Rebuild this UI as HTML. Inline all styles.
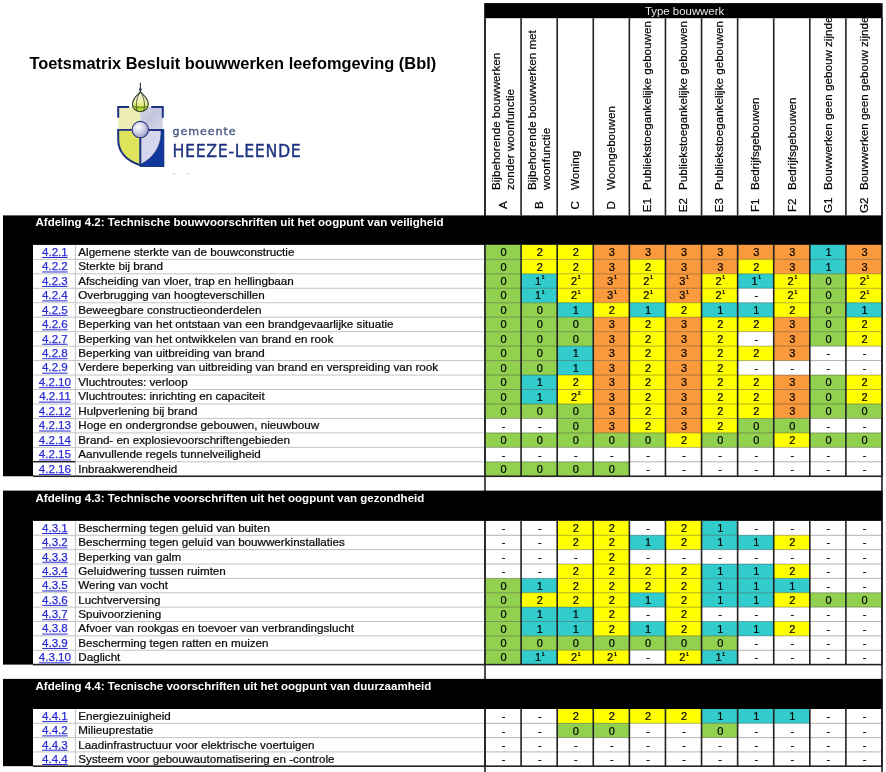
<!DOCTYPE html>
<html lang="nl"><head><meta charset="utf-8"><title>Toetsmatrix Besluit bouwwerken leefomgeving (Bbl)</title>
<style>
html,body{margin:0;padding:0;background:#fff;}
body{width:886px;height:772px;overflow:hidden;}
svg{display:block;font-family:"Liberation Sans", Arial, sans-serif;will-change:transform;}
.d{font-size:11px;fill:#000;stroke:#000;stroke-width:.22px;}
.t{font-size:11.65px;fill:#0a0a0a;stroke:#0a0a0a;stroke-width:.24px;}
.l{font-size:11.6px;fill:#2a2ad6;stroke:#2a2ad6;stroke-width:.25px;}
.h{font-size:11.65px;fill:#000;stroke:#000;stroke-width:.2px;}
</style></head><body>
<svg width="886" height="772" viewBox="0 0 886 772">
<defs><clipPath id="hclip"><rect x="484" y="18.2" width="400" height="197.2"/></clipPath></defs>
<rect x="484.2" y="3.1" width="398.4" height="15.1" fill="#000"/>
<text x="684.6" y="14.5" text-anchor="middle" fill="#e6e6e6" font-size="11.4">Type bouwwerk</text>
<g clip-path="url(#hclip)" class="h">
<text transform="translate(506.85,205.2) rotate(-90)" text-anchor="middle">A</text>
<text transform="translate(499.85,190.0) rotate(-90)">Bijbehorende bouwwerken</text>
<text transform="translate(513.85,190.0) rotate(-90)">zonder woonfunctie</text>
<text transform="translate(542.93,205.2) rotate(-90)" text-anchor="middle">B</text>
<text transform="translate(535.93,190.0) rotate(-90)">Bijbehorende bouwwerken met</text>
<text transform="translate(549.93,190.0) rotate(-90)">woonfunctie</text>
<text transform="translate(579.02,205.2) rotate(-90)" text-anchor="middle">C</text>
<text transform="translate(579.02,190.0) rotate(-90)">Woning</text>
<text transform="translate(615.12,205.2) rotate(-90)" text-anchor="middle">D</text>
<text transform="translate(615.12,190.0) rotate(-90)">Woongebouwen</text>
<text transform="translate(651.2,205.2) rotate(-90)" text-anchor="middle">E1</text>
<text transform="translate(651.2,190.0) rotate(-90)">Publiekstoegankelijke gebouwen</text>
<text transform="translate(687.29,205.2) rotate(-90)" text-anchor="middle">E2</text>
<text transform="translate(687.29,190.0) rotate(-90)">Publiekstoegankelijke gebouwen</text>
<text transform="translate(723.38,205.2) rotate(-90)" text-anchor="middle">E3</text>
<text transform="translate(723.38,190.0) rotate(-90)">Publiekstoegankelijke gebouwen</text>
<text transform="translate(759.47,205.2) rotate(-90)" text-anchor="middle">F1</text>
<text transform="translate(759.47,190.0) rotate(-90)">Bedrijfsgebouwen</text>
<text transform="translate(795.57,205.2) rotate(-90)" text-anchor="middle">F2</text>
<text transform="translate(795.57,190.0) rotate(-90)">Bedrijfsgebouwen</text>
<text transform="translate(831.65,205.2) rotate(-90)" text-anchor="middle">G1</text>
<text transform="translate(831.65,190.0) rotate(-90)">Bouwwerken geen gebouw zijnde</text>
<text transform="translate(867.75,205.2) rotate(-90)" text-anchor="middle">G2</text>
<text transform="translate(867.75,190.0) rotate(-90)">Bouwwerken geen gebouw zijnde</text>
</g>
<rect x="484.2" y="18.2" width="1.6" height="197.2" fill="#222"/>
<rect x="520.29" y="18.2" width="1.6" height="197.2" fill="#222"/>
<rect x="556.38" y="18.2" width="1.6" height="197.2" fill="#222"/>
<rect x="592.47" y="18.2" width="1.6" height="197.2" fill="#222"/>
<rect x="628.56" y="18.2" width="1.6" height="197.2" fill="#222"/>
<rect x="664.65" y="18.2" width="1.6" height="197.2" fill="#222"/>
<rect x="700.74" y="18.2" width="1.6" height="197.2" fill="#222"/>
<rect x="736.83" y="18.2" width="1.6" height="197.2" fill="#222"/>
<rect x="772.92" y="18.2" width="1.6" height="197.2" fill="#222"/>
<rect x="809.01" y="18.2" width="1.6" height="197.2" fill="#222"/>
<rect x="845.1" y="18.2" width="1.6" height="197.2" fill="#222"/>
<rect x="881.19" y="18.2" width="1.6" height="197.2" fill="#222"/>
<rect x="484.2" y="18.2" width="1.6" height="753.8" fill="#222"/>
<rect x="881.19" y="18.2" width="1.6" height="753.8" fill="#222"/>
<rect x="3.0" y="215.4" width="879.6" height="29.5" fill="#000"/>
<text x="35.5" y="226.4" fill="#fff" font-weight="bold" font-size="11.53">Afdeling 4.2: Technische bouwvoorschriften uit het oogpunt van veiligheid</text>
<rect x="3.0" y="217.4" width="30" height="258.86" fill="#000"/>
<rect x="485" y="244.9" width="36.09" height="14.46" fill="#92d050"/>
<rect x="521.09" y="244.9" width="36.09" height="14.46" fill="#ffff00"/>
<rect x="557.18" y="244.9" width="36.09" height="14.46" fill="#ffff00"/>
<rect x="593.27" y="244.9" width="36.09" height="14.46" fill="#fa9a3c"/>
<rect x="629.36" y="244.9" width="36.09" height="14.46" fill="#fa9a3c"/>
<rect x="665.45" y="244.9" width="36.09" height="14.46" fill="#fa9a3c"/>
<rect x="701.54" y="244.9" width="36.09" height="14.46" fill="#fa9a3c"/>
<rect x="737.63" y="244.9" width="36.09" height="14.46" fill="#fa9a3c"/>
<rect x="773.72" y="244.9" width="36.09" height="14.46" fill="#fa9a3c"/>
<rect x="809.81" y="244.9" width="36.09" height="14.46" fill="#33cccc"/>
<rect x="845.9" y="244.9" width="36.09" height="14.46" fill="#fa9a3c"/>
<rect x="485" y="259.36" width="36.09" height="14.46" fill="#92d050"/>
<rect x="521.09" y="259.36" width="36.09" height="14.46" fill="#ffff00"/>
<rect x="557.18" y="259.36" width="36.09" height="14.46" fill="#ffff00"/>
<rect x="593.27" y="259.36" width="36.09" height="14.46" fill="#fa9a3c"/>
<rect x="629.36" y="259.36" width="36.09" height="14.46" fill="#ffff00"/>
<rect x="665.45" y="259.36" width="36.09" height="14.46" fill="#fa9a3c"/>
<rect x="701.54" y="259.36" width="36.09" height="14.46" fill="#fa9a3c"/>
<rect x="737.63" y="259.36" width="36.09" height="14.46" fill="#ffff00"/>
<rect x="773.72" y="259.36" width="36.09" height="14.46" fill="#fa9a3c"/>
<rect x="809.81" y="259.36" width="36.09" height="14.46" fill="#33cccc"/>
<rect x="845.9" y="259.36" width="36.09" height="14.46" fill="#fa9a3c"/>
<rect x="485" y="273.82" width="36.09" height="14.46" fill="#92d050"/>
<rect x="521.09" y="273.82" width="36.09" height="14.46" fill="#33cccc"/>
<rect x="557.18" y="273.82" width="36.09" height="14.46" fill="#ffff00"/>
<rect x="593.27" y="273.82" width="36.09" height="14.46" fill="#fa9a3c"/>
<rect x="629.36" y="273.82" width="36.09" height="14.46" fill="#ffff00"/>
<rect x="665.45" y="273.82" width="36.09" height="14.46" fill="#fa9a3c"/>
<rect x="701.54" y="273.82" width="36.09" height="14.46" fill="#ffff00"/>
<rect x="737.63" y="273.82" width="36.09" height="14.46" fill="#33cccc"/>
<rect x="773.72" y="273.82" width="36.09" height="14.46" fill="#ffff00"/>
<rect x="809.81" y="273.82" width="36.09" height="14.46" fill="#92d050"/>
<rect x="845.9" y="273.82" width="36.09" height="14.46" fill="#ffff00"/>
<rect x="485" y="288.28" width="36.09" height="14.46" fill="#92d050"/>
<rect x="521.09" y="288.28" width="36.09" height="14.46" fill="#33cccc"/>
<rect x="557.18" y="288.28" width="36.09" height="14.46" fill="#ffff00"/>
<rect x="593.27" y="288.28" width="36.09" height="14.46" fill="#fa9a3c"/>
<rect x="629.36" y="288.28" width="36.09" height="14.46" fill="#ffff00"/>
<rect x="665.45" y="288.28" width="36.09" height="14.46" fill="#fa9a3c"/>
<rect x="701.54" y="288.28" width="36.09" height="14.46" fill="#ffff00"/>
<rect x="773.72" y="288.28" width="36.09" height="14.46" fill="#ffff00"/>
<rect x="809.81" y="288.28" width="36.09" height="14.46" fill="#92d050"/>
<rect x="845.9" y="288.28" width="36.09" height="14.46" fill="#ffff00"/>
<rect x="485" y="302.74" width="36.09" height="14.46" fill="#92d050"/>
<rect x="521.09" y="302.74" width="36.09" height="14.46" fill="#92d050"/>
<rect x="557.18" y="302.74" width="36.09" height="14.46" fill="#33cccc"/>
<rect x="593.27" y="302.74" width="36.09" height="14.46" fill="#ffff00"/>
<rect x="629.36" y="302.74" width="36.09" height="14.46" fill="#33cccc"/>
<rect x="665.45" y="302.74" width="36.09" height="14.46" fill="#ffff00"/>
<rect x="701.54" y="302.74" width="36.09" height="14.46" fill="#33cccc"/>
<rect x="737.63" y="302.74" width="36.09" height="14.46" fill="#33cccc"/>
<rect x="773.72" y="302.74" width="36.09" height="14.46" fill="#ffff00"/>
<rect x="809.81" y="302.74" width="36.09" height="14.46" fill="#92d050"/>
<rect x="845.9" y="302.74" width="36.09" height="14.46" fill="#33cccc"/>
<rect x="485" y="317.2" width="36.09" height="14.46" fill="#92d050"/>
<rect x="521.09" y="317.2" width="36.09" height="14.46" fill="#92d050"/>
<rect x="557.18" y="317.2" width="36.09" height="14.46" fill="#92d050"/>
<rect x="593.27" y="317.2" width="36.09" height="14.46" fill="#fa9a3c"/>
<rect x="629.36" y="317.2" width="36.09" height="14.46" fill="#ffff00"/>
<rect x="665.45" y="317.2" width="36.09" height="14.46" fill="#fa9a3c"/>
<rect x="701.54" y="317.2" width="36.09" height="14.46" fill="#ffff00"/>
<rect x="737.63" y="317.2" width="36.09" height="14.46" fill="#ffff00"/>
<rect x="773.72" y="317.2" width="36.09" height="14.46" fill="#fa9a3c"/>
<rect x="809.81" y="317.2" width="36.09" height="14.46" fill="#92d050"/>
<rect x="845.9" y="317.2" width="36.09" height="14.46" fill="#ffff00"/>
<rect x="485" y="331.66" width="36.09" height="14.46" fill="#92d050"/>
<rect x="521.09" y="331.66" width="36.09" height="14.46" fill="#92d050"/>
<rect x="557.18" y="331.66" width="36.09" height="14.46" fill="#92d050"/>
<rect x="593.27" y="331.66" width="36.09" height="14.46" fill="#fa9a3c"/>
<rect x="629.36" y="331.66" width="36.09" height="14.46" fill="#ffff00"/>
<rect x="665.45" y="331.66" width="36.09" height="14.46" fill="#fa9a3c"/>
<rect x="701.54" y="331.66" width="36.09" height="14.46" fill="#ffff00"/>
<rect x="773.72" y="331.66" width="36.09" height="14.46" fill="#fa9a3c"/>
<rect x="809.81" y="331.66" width="36.09" height="14.46" fill="#92d050"/>
<rect x="845.9" y="331.66" width="36.09" height="14.46" fill="#ffff00"/>
<rect x="485" y="346.12" width="36.09" height="14.46" fill="#92d050"/>
<rect x="521.09" y="346.12" width="36.09" height="14.46" fill="#92d050"/>
<rect x="557.18" y="346.12" width="36.09" height="14.46" fill="#33cccc"/>
<rect x="593.27" y="346.12" width="36.09" height="14.46" fill="#fa9a3c"/>
<rect x="629.36" y="346.12" width="36.09" height="14.46" fill="#ffff00"/>
<rect x="665.45" y="346.12" width="36.09" height="14.46" fill="#fa9a3c"/>
<rect x="701.54" y="346.12" width="36.09" height="14.46" fill="#ffff00"/>
<rect x="737.63" y="346.12" width="36.09" height="14.46" fill="#ffff00"/>
<rect x="773.72" y="346.12" width="36.09" height="14.46" fill="#fa9a3c"/>
<rect x="485" y="360.58" width="36.09" height="14.46" fill="#92d050"/>
<rect x="521.09" y="360.58" width="36.09" height="14.46" fill="#92d050"/>
<rect x="557.18" y="360.58" width="36.09" height="14.46" fill="#33cccc"/>
<rect x="593.27" y="360.58" width="36.09" height="14.46" fill="#fa9a3c"/>
<rect x="629.36" y="360.58" width="36.09" height="14.46" fill="#ffff00"/>
<rect x="665.45" y="360.58" width="36.09" height="14.46" fill="#fa9a3c"/>
<rect x="701.54" y="360.58" width="36.09" height="14.46" fill="#ffff00"/>
<rect x="485" y="375.04" width="36.09" height="14.46" fill="#92d050"/>
<rect x="521.09" y="375.04" width="36.09" height="14.46" fill="#33cccc"/>
<rect x="557.18" y="375.04" width="36.09" height="14.46" fill="#ffff00"/>
<rect x="593.27" y="375.04" width="36.09" height="14.46" fill="#fa9a3c"/>
<rect x="629.36" y="375.04" width="36.09" height="14.46" fill="#ffff00"/>
<rect x="665.45" y="375.04" width="36.09" height="14.46" fill="#fa9a3c"/>
<rect x="701.54" y="375.04" width="36.09" height="14.46" fill="#ffff00"/>
<rect x="737.63" y="375.04" width="36.09" height="14.46" fill="#ffff00"/>
<rect x="773.72" y="375.04" width="36.09" height="14.46" fill="#fa9a3c"/>
<rect x="809.81" y="375.04" width="36.09" height="14.46" fill="#92d050"/>
<rect x="845.9" y="375.04" width="36.09" height="14.46" fill="#ffff00"/>
<rect x="485" y="389.5" width="36.09" height="14.46" fill="#92d050"/>
<rect x="521.09" y="389.5" width="36.09" height="14.46" fill="#33cccc"/>
<rect x="557.18" y="389.5" width="36.09" height="14.46" fill="#ffff00"/>
<rect x="593.27" y="389.5" width="36.09" height="14.46" fill="#fa9a3c"/>
<rect x="629.36" y="389.5" width="36.09" height="14.46" fill="#ffff00"/>
<rect x="665.45" y="389.5" width="36.09" height="14.46" fill="#fa9a3c"/>
<rect x="701.54" y="389.5" width="36.09" height="14.46" fill="#ffff00"/>
<rect x="737.63" y="389.5" width="36.09" height="14.46" fill="#ffff00"/>
<rect x="773.72" y="389.5" width="36.09" height="14.46" fill="#fa9a3c"/>
<rect x="809.81" y="389.5" width="36.09" height="14.46" fill="#92d050"/>
<rect x="845.9" y="389.5" width="36.09" height="14.46" fill="#ffff00"/>
<rect x="485" y="403.96" width="36.09" height="14.46" fill="#92d050"/>
<rect x="521.09" y="403.96" width="36.09" height="14.46" fill="#92d050"/>
<rect x="557.18" y="403.96" width="36.09" height="14.46" fill="#92d050"/>
<rect x="593.27" y="403.96" width="36.09" height="14.46" fill="#fa9a3c"/>
<rect x="629.36" y="403.96" width="36.09" height="14.46" fill="#ffff00"/>
<rect x="665.45" y="403.96" width="36.09" height="14.46" fill="#fa9a3c"/>
<rect x="701.54" y="403.96" width="36.09" height="14.46" fill="#ffff00"/>
<rect x="737.63" y="403.96" width="36.09" height="14.46" fill="#ffff00"/>
<rect x="773.72" y="403.96" width="36.09" height="14.46" fill="#fa9a3c"/>
<rect x="809.81" y="403.96" width="36.09" height="14.46" fill="#92d050"/>
<rect x="845.9" y="403.96" width="36.09" height="14.46" fill="#92d050"/>
<rect x="557.18" y="418.42" width="36.09" height="14.46" fill="#92d050"/>
<rect x="593.27" y="418.42" width="36.09" height="14.46" fill="#fa9a3c"/>
<rect x="629.36" y="418.42" width="36.09" height="14.46" fill="#ffff00"/>
<rect x="665.45" y="418.42" width="36.09" height="14.46" fill="#fa9a3c"/>
<rect x="701.54" y="418.42" width="36.09" height="14.46" fill="#ffff00"/>
<rect x="737.63" y="418.42" width="36.09" height="14.46" fill="#92d050"/>
<rect x="773.72" y="418.42" width="36.09" height="14.46" fill="#92d050"/>
<rect x="485" y="432.88" width="36.09" height="14.46" fill="#92d050"/>
<rect x="521.09" y="432.88" width="36.09" height="14.46" fill="#92d050"/>
<rect x="557.18" y="432.88" width="36.09" height="14.46" fill="#92d050"/>
<rect x="593.27" y="432.88" width="36.09" height="14.46" fill="#92d050"/>
<rect x="629.36" y="432.88" width="36.09" height="14.46" fill="#92d050"/>
<rect x="665.45" y="432.88" width="36.09" height="14.46" fill="#ffff00"/>
<rect x="701.54" y="432.88" width="36.09" height="14.46" fill="#92d050"/>
<rect x="737.63" y="432.88" width="36.09" height="14.46" fill="#92d050"/>
<rect x="773.72" y="432.88" width="36.09" height="14.46" fill="#ffff00"/>
<rect x="809.81" y="432.88" width="36.09" height="14.46" fill="#92d050"/>
<rect x="845.9" y="432.88" width="36.09" height="14.46" fill="#92d050"/>
<rect x="485" y="461.8" width="36.09" height="14.46" fill="#92d050"/>
<rect x="521.09" y="461.8" width="36.09" height="14.46" fill="#92d050"/>
<rect x="557.18" y="461.8" width="36.09" height="14.46" fill="#92d050"/>
<rect x="593.27" y="461.8" width="36.09" height="14.46" fill="#92d050"/>
<rect x="33.0" y="258.86" width="452" height="1" fill="#c4c4c4"/>
<rect x="485" y="258.86" width="397" height="1" fill="rgba(0,0,0,0.3)"/>
<rect x="33.0" y="273.32" width="452" height="1" fill="#c4c4c4"/>
<rect x="485" y="273.32" width="397" height="1" fill="rgba(0,0,0,0.3)"/>
<rect x="33.0" y="287.78" width="452" height="1" fill="#c4c4c4"/>
<rect x="485" y="287.78" width="397" height="1" fill="rgba(0,0,0,0.3)"/>
<rect x="33.0" y="302.24" width="452" height="1" fill="#c4c4c4"/>
<rect x="485" y="302.24" width="397" height="1" fill="rgba(0,0,0,0.3)"/>
<rect x="33.0" y="316.7" width="452" height="1" fill="#c4c4c4"/>
<rect x="485" y="316.7" width="397" height="1" fill="rgba(0,0,0,0.3)"/>
<rect x="33.0" y="331.16" width="452" height="1" fill="#c4c4c4"/>
<rect x="485" y="331.16" width="397" height="1" fill="rgba(0,0,0,0.3)"/>
<rect x="33.0" y="345.62" width="452" height="1" fill="#c4c4c4"/>
<rect x="485" y="345.62" width="397" height="1" fill="rgba(0,0,0,0.3)"/>
<rect x="33.0" y="360.08" width="452" height="1" fill="#c4c4c4"/>
<rect x="485" y="360.08" width="397" height="1" fill="rgba(0,0,0,0.3)"/>
<rect x="33.0" y="374.54" width="452" height="1" fill="#c4c4c4"/>
<rect x="485" y="374.54" width="397" height="1" fill="rgba(0,0,0,0.3)"/>
<rect x="33.0" y="389" width="452" height="1" fill="#c4c4c4"/>
<rect x="485" y="389" width="397" height="1" fill="rgba(0,0,0,0.3)"/>
<rect x="33.0" y="403.46" width="452" height="1" fill="#c4c4c4"/>
<rect x="485" y="403.46" width="397" height="1" fill="rgba(0,0,0,0.3)"/>
<rect x="33.0" y="417.92" width="452" height="1" fill="#c4c4c4"/>
<rect x="485" y="417.92" width="397" height="1" fill="rgba(0,0,0,0.3)"/>
<rect x="33.0" y="432.38" width="452" height="1" fill="#c4c4c4"/>
<rect x="485" y="432.38" width="397" height="1" fill="rgba(0,0,0,0.3)"/>
<rect x="33.0" y="446.84" width="452" height="1" fill="#c4c4c4"/>
<rect x="485" y="446.84" width="397" height="1" fill="rgba(0,0,0,0.3)"/>
<rect x="33.0" y="461.3" width="452" height="1" fill="#c4c4c4"/>
<rect x="485" y="461.3" width="397" height="1" fill="rgba(0,0,0,0.3)"/>
<rect x="74.9" y="244.9" width="1" height="231.36" fill="#c4c4c4"/>
<rect x="33.0" y="475.46" width="849.6" height="1.6" fill="#222"/>
<text x="54.9" y="255.8" text-anchor="middle" class="l">4.2.1</text>
<rect x="42.22" y="257" width="25.36" height="1" fill="#2a2ad6"/>
<text x="78.3" y="255.8" class="t">Algemene sterkte van de bouwconstructie</text>
<text x="503.65" y="256.1" text-anchor="middle" class="d">0</text>
<text x="539.74" y="256.1" text-anchor="middle" class="d">2</text>
<text x="575.83" y="256.1" text-anchor="middle" class="d">2</text>
<text x="611.92" y="256.1" text-anchor="middle" class="d">3</text>
<text x="648" y="256.1" text-anchor="middle" class="d">3</text>
<text x="684.1" y="256.1" text-anchor="middle" class="d">3</text>
<text x="720.19" y="256.1" text-anchor="middle" class="d">3</text>
<text x="756.27" y="256.1" text-anchor="middle" class="d">3</text>
<text x="792.37" y="256.1" text-anchor="middle" class="d">3</text>
<text x="828.46" y="256.1" text-anchor="middle" class="d">1</text>
<text x="864.55" y="256.1" text-anchor="middle" class="d">3</text>
<text x="54.9" y="270.26" text-anchor="middle" class="l">4.2.2</text>
<rect x="42.22" y="271.46" width="25.36" height="1" fill="#2a2ad6"/>
<text x="78.3" y="270.26" class="t">Sterkte bij brand</text>
<text x="503.65" y="270.56" text-anchor="middle" class="d">0</text>
<text x="539.74" y="270.56" text-anchor="middle" class="d">2</text>
<text x="575.83" y="270.56" text-anchor="middle" class="d">2</text>
<text x="611.92" y="270.56" text-anchor="middle" class="d">3</text>
<text x="648" y="270.56" text-anchor="middle" class="d">2</text>
<text x="684.1" y="270.56" text-anchor="middle" class="d">3</text>
<text x="720.19" y="270.56" text-anchor="middle" class="d">3</text>
<text x="756.27" y="270.56" text-anchor="middle" class="d">2</text>
<text x="792.37" y="270.56" text-anchor="middle" class="d">3</text>
<text x="828.46" y="270.56" text-anchor="middle" class="d">1</text>
<text x="864.55" y="270.56" text-anchor="middle" class="d">3</text>
<text x="54.9" y="284.72" text-anchor="middle" class="l">4.2.3</text>
<rect x="42.22" y="285.92" width="25.36" height="1" fill="#2a2ad6"/>
<text x="78.3" y="284.72" class="t">Afscheiding van vloer, trap en hellingbaan</text>
<text x="503.65" y="285.02" text-anchor="middle" class="d">0</text>
<text x="539.74" y="285.02" text-anchor="middle" class="d">1<tspan font-size="8.4" dx="0.7" dy="-3.8">¹</tspan></text>
<text x="575.83" y="285.02" text-anchor="middle" class="d">2<tspan font-size="8.4" dx="0.7" dy="-3.8">¹</tspan></text>
<text x="611.92" y="285.02" text-anchor="middle" class="d">3<tspan font-size="8.4" dx="0.7" dy="-3.8">¹</tspan></text>
<text x="648" y="285.02" text-anchor="middle" class="d">2<tspan font-size="8.4" dx="0.7" dy="-3.8">¹</tspan></text>
<text x="684.1" y="285.02" text-anchor="middle" class="d">3<tspan font-size="8.4" dx="0.7" dy="-3.8">¹</tspan></text>
<text x="720.19" y="285.02" text-anchor="middle" class="d">2<tspan font-size="8.4" dx="0.7" dy="-3.8">¹</tspan></text>
<text x="756.27" y="285.02" text-anchor="middle" class="d">1<tspan font-size="8.4" dx="0.7" dy="-3.8">¹</tspan></text>
<text x="792.37" y="285.02" text-anchor="middle" class="d">2<tspan font-size="8.4" dx="0.7" dy="-3.8">¹</tspan></text>
<text x="828.46" y="285.02" text-anchor="middle" class="d">0</text>
<text x="864.55" y="285.02" text-anchor="middle" class="d">2<tspan font-size="8.4" dx="0.7" dy="-3.8">¹</tspan></text>
<text x="54.9" y="299.18" text-anchor="middle" class="l">4.2.4</text>
<rect x="42.22" y="300.38" width="25.36" height="1" fill="#2a2ad6"/>
<text x="78.3" y="299.18" class="t">Overbrugging van hoogteverschillen</text>
<text x="503.65" y="299.48" text-anchor="middle" class="d">0</text>
<text x="539.74" y="299.48" text-anchor="middle" class="d">1<tspan font-size="8.4" dx="0.7" dy="-3.8">¹</tspan></text>
<text x="575.83" y="299.48" text-anchor="middle" class="d">2<tspan font-size="8.4" dx="0.7" dy="-3.8">¹</tspan></text>
<text x="611.92" y="299.48" text-anchor="middle" class="d">3<tspan font-size="8.4" dx="0.7" dy="-3.8">¹</tspan></text>
<text x="648" y="299.48" text-anchor="middle" class="d">2<tspan font-size="8.4" dx="0.7" dy="-3.8">¹</tspan></text>
<text x="684.1" y="299.48" text-anchor="middle" class="d">3<tspan font-size="8.4" dx="0.7" dy="-3.8">¹</tspan></text>
<text x="720.19" y="299.48" text-anchor="middle" class="d">2<tspan font-size="8.4" dx="0.7" dy="-3.8">¹</tspan></text>
<text x="756.27" y="299.48" text-anchor="middle" class="d">-</text>
<text x="792.37" y="299.48" text-anchor="middle" class="d">2<tspan font-size="8.4" dx="0.7" dy="-3.8">¹</tspan></text>
<text x="828.46" y="299.48" text-anchor="middle" class="d">0</text>
<text x="864.55" y="299.48" text-anchor="middle" class="d">2<tspan font-size="8.4" dx="0.7" dy="-3.8">¹</tspan></text>
<text x="54.9" y="313.64" text-anchor="middle" class="l">4.2.5</text>
<rect x="42.22" y="314.84" width="25.36" height="1" fill="#2a2ad6"/>
<text x="78.3" y="313.64" class="t">Beweegbare constructieonderdelen</text>
<text x="503.65" y="313.94" text-anchor="middle" class="d">0</text>
<text x="539.74" y="313.94" text-anchor="middle" class="d">0</text>
<text x="575.83" y="313.94" text-anchor="middle" class="d">1</text>
<text x="611.92" y="313.94" text-anchor="middle" class="d">2</text>
<text x="648" y="313.94" text-anchor="middle" class="d">1</text>
<text x="684.1" y="313.94" text-anchor="middle" class="d">2</text>
<text x="720.19" y="313.94" text-anchor="middle" class="d">1</text>
<text x="756.27" y="313.94" text-anchor="middle" class="d">1</text>
<text x="792.37" y="313.94" text-anchor="middle" class="d">2</text>
<text x="828.46" y="313.94" text-anchor="middle" class="d">0</text>
<text x="864.55" y="313.94" text-anchor="middle" class="d">1</text>
<text x="54.9" y="328.1" text-anchor="middle" class="l">4.2.6</text>
<rect x="42.22" y="329.3" width="25.36" height="1" fill="#2a2ad6"/>
<text x="78.3" y="328.1" class="t">Beperking van het ontstaan van een brandgevaarlijke situatie</text>
<text x="503.65" y="328.4" text-anchor="middle" class="d">0</text>
<text x="539.74" y="328.4" text-anchor="middle" class="d">0</text>
<text x="575.83" y="328.4" text-anchor="middle" class="d">0</text>
<text x="611.92" y="328.4" text-anchor="middle" class="d">3</text>
<text x="648" y="328.4" text-anchor="middle" class="d">2</text>
<text x="684.1" y="328.4" text-anchor="middle" class="d">3</text>
<text x="720.19" y="328.4" text-anchor="middle" class="d">2</text>
<text x="756.27" y="328.4" text-anchor="middle" class="d">2</text>
<text x="792.37" y="328.4" text-anchor="middle" class="d">3</text>
<text x="828.46" y="328.4" text-anchor="middle" class="d">0</text>
<text x="864.55" y="328.4" text-anchor="middle" class="d">2</text>
<text x="54.9" y="342.56" text-anchor="middle" class="l">4.2.7</text>
<rect x="42.22" y="343.76" width="25.36" height="1" fill="#2a2ad6"/>
<text x="78.3" y="342.56" class="t">Beperking van het ontwikkelen van brand en rook</text>
<text x="503.65" y="342.86" text-anchor="middle" class="d">0</text>
<text x="539.74" y="342.86" text-anchor="middle" class="d">0</text>
<text x="575.83" y="342.86" text-anchor="middle" class="d">0</text>
<text x="611.92" y="342.86" text-anchor="middle" class="d">3</text>
<text x="648" y="342.86" text-anchor="middle" class="d">2</text>
<text x="684.1" y="342.86" text-anchor="middle" class="d">3</text>
<text x="720.19" y="342.86" text-anchor="middle" class="d">2</text>
<text x="756.27" y="342.86" text-anchor="middle" class="d">-</text>
<text x="792.37" y="342.86" text-anchor="middle" class="d">3</text>
<text x="828.46" y="342.86" text-anchor="middle" class="d">0</text>
<text x="864.55" y="342.86" text-anchor="middle" class="d">2</text>
<text x="54.9" y="357.02" text-anchor="middle" class="l">4.2.8</text>
<rect x="42.22" y="358.22" width="25.36" height="1" fill="#2a2ad6"/>
<text x="78.3" y="357.02" class="t">Beperking van uitbreiding van brand</text>
<text x="503.65" y="357.32" text-anchor="middle" class="d">0</text>
<text x="539.74" y="357.32" text-anchor="middle" class="d">0</text>
<text x="575.83" y="357.32" text-anchor="middle" class="d">1</text>
<text x="611.92" y="357.32" text-anchor="middle" class="d">3</text>
<text x="648" y="357.32" text-anchor="middle" class="d">2</text>
<text x="684.1" y="357.32" text-anchor="middle" class="d">3</text>
<text x="720.19" y="357.32" text-anchor="middle" class="d">2</text>
<text x="756.27" y="357.32" text-anchor="middle" class="d">2</text>
<text x="792.37" y="357.32" text-anchor="middle" class="d">3</text>
<text x="828.46" y="357.32" text-anchor="middle" class="d">-</text>
<text x="864.55" y="357.32" text-anchor="middle" class="d">-</text>
<text x="54.9" y="371.48" text-anchor="middle" class="l">4.2.9</text>
<rect x="42.22" y="372.68" width="25.36" height="1" fill="#2a2ad6"/>
<text x="78.3" y="371.48" class="t">Verdere beperking van uitbreiding van brand en verspreiding van rook</text>
<text x="503.65" y="371.78" text-anchor="middle" class="d">0</text>
<text x="539.74" y="371.78" text-anchor="middle" class="d">0</text>
<text x="575.83" y="371.78" text-anchor="middle" class="d">1</text>
<text x="611.92" y="371.78" text-anchor="middle" class="d">3</text>
<text x="648" y="371.78" text-anchor="middle" class="d">2</text>
<text x="684.1" y="371.78" text-anchor="middle" class="d">3</text>
<text x="720.19" y="371.78" text-anchor="middle" class="d">2</text>
<text x="756.27" y="371.78" text-anchor="middle" class="d">-</text>
<text x="792.37" y="371.78" text-anchor="middle" class="d">-</text>
<text x="828.46" y="371.78" text-anchor="middle" class="d">-</text>
<text x="864.55" y="371.78" text-anchor="middle" class="d">-</text>
<text x="54.9" y="385.94" text-anchor="middle" class="l">4.2.10</text>
<rect x="39.05" y="387.14" width="31.7" height="1" fill="#2a2ad6"/>
<text x="78.3" y="385.94" class="t">Vluchtroutes: verloop</text>
<text x="503.65" y="386.24" text-anchor="middle" class="d">0</text>
<text x="539.74" y="386.24" text-anchor="middle" class="d">1</text>
<text x="575.83" y="386.24" text-anchor="middle" class="d">2</text>
<text x="611.92" y="386.24" text-anchor="middle" class="d">3</text>
<text x="648" y="386.24" text-anchor="middle" class="d">2</text>
<text x="684.1" y="386.24" text-anchor="middle" class="d">3</text>
<text x="720.19" y="386.24" text-anchor="middle" class="d">2</text>
<text x="756.27" y="386.24" text-anchor="middle" class="d">2</text>
<text x="792.37" y="386.24" text-anchor="middle" class="d">3</text>
<text x="828.46" y="386.24" text-anchor="middle" class="d">0</text>
<text x="864.55" y="386.24" text-anchor="middle" class="d">2</text>
<text x="54.9" y="400.4" text-anchor="middle" class="l">4.2.11</text>
<rect x="39.05" y="401.6" width="31.7" height="1" fill="#2a2ad6"/>
<text x="78.3" y="400.4" class="t">Vluchtroutes: inrichting en capaciteit</text>
<text x="503.65" y="400.7" text-anchor="middle" class="d">0</text>
<text x="539.74" y="400.7" text-anchor="middle" class="d">1</text>
<text x="575.83" y="400.7" text-anchor="middle" class="d">2<tspan font-size="8.4" dx="0.7" dy="-3.8">²</tspan></text>
<text x="611.92" y="400.7" text-anchor="middle" class="d">3</text>
<text x="648" y="400.7" text-anchor="middle" class="d">2</text>
<text x="684.1" y="400.7" text-anchor="middle" class="d">3</text>
<text x="720.19" y="400.7" text-anchor="middle" class="d">2</text>
<text x="756.27" y="400.7" text-anchor="middle" class="d">2</text>
<text x="792.37" y="400.7" text-anchor="middle" class="d">3</text>
<text x="828.46" y="400.7" text-anchor="middle" class="d">0</text>
<text x="864.55" y="400.7" text-anchor="middle" class="d">2</text>
<text x="54.9" y="414.86" text-anchor="middle" class="l">4.2.12</text>
<rect x="39.05" y="416.06" width="31.7" height="1" fill="#2a2ad6"/>
<text x="78.3" y="414.86" class="t">Hulpverlening bij brand</text>
<text x="503.65" y="415.16" text-anchor="middle" class="d">0</text>
<text x="539.74" y="415.16" text-anchor="middle" class="d">0</text>
<text x="575.83" y="415.16" text-anchor="middle" class="d">0</text>
<text x="611.92" y="415.16" text-anchor="middle" class="d">3</text>
<text x="648" y="415.16" text-anchor="middle" class="d">2</text>
<text x="684.1" y="415.16" text-anchor="middle" class="d">3</text>
<text x="720.19" y="415.16" text-anchor="middle" class="d">2</text>
<text x="756.27" y="415.16" text-anchor="middle" class="d">2</text>
<text x="792.37" y="415.16" text-anchor="middle" class="d">3</text>
<text x="828.46" y="415.16" text-anchor="middle" class="d">0</text>
<text x="864.55" y="415.16" text-anchor="middle" class="d">0</text>
<text x="54.9" y="429.32" text-anchor="middle" class="l">4.2.13</text>
<rect x="39.05" y="430.52" width="31.7" height="1" fill="#2a2ad6"/>
<text x="78.3" y="429.32" class="t">Hoge en ondergrondse gebouwen, nieuwbouw</text>
<text x="503.65" y="429.62" text-anchor="middle" class="d">-</text>
<text x="539.74" y="429.62" text-anchor="middle" class="d">-</text>
<text x="575.83" y="429.62" text-anchor="middle" class="d">0</text>
<text x="611.92" y="429.62" text-anchor="middle" class="d">3</text>
<text x="648" y="429.62" text-anchor="middle" class="d">2</text>
<text x="684.1" y="429.62" text-anchor="middle" class="d">3</text>
<text x="720.19" y="429.62" text-anchor="middle" class="d">2</text>
<text x="756.27" y="429.62" text-anchor="middle" class="d">0</text>
<text x="792.37" y="429.62" text-anchor="middle" class="d">0</text>
<text x="828.46" y="429.62" text-anchor="middle" class="d">-</text>
<text x="864.55" y="429.62" text-anchor="middle" class="d">-</text>
<text x="54.9" y="443.78" text-anchor="middle" class="l">4.2.14</text>
<rect x="39.05" y="444.98" width="31.7" height="1" fill="#2a2ad6"/>
<text x="78.3" y="443.78" class="t">Brand- en explosievoorschriftengebieden</text>
<text x="503.65" y="444.08" text-anchor="middle" class="d">0</text>
<text x="539.74" y="444.08" text-anchor="middle" class="d">0</text>
<text x="575.83" y="444.08" text-anchor="middle" class="d">0</text>
<text x="611.92" y="444.08" text-anchor="middle" class="d">0</text>
<text x="648" y="444.08" text-anchor="middle" class="d">0</text>
<text x="684.1" y="444.08" text-anchor="middle" class="d">2</text>
<text x="720.19" y="444.08" text-anchor="middle" class="d">0</text>
<text x="756.27" y="444.08" text-anchor="middle" class="d">0</text>
<text x="792.37" y="444.08" text-anchor="middle" class="d">2</text>
<text x="828.46" y="444.08" text-anchor="middle" class="d">0</text>
<text x="864.55" y="444.08" text-anchor="middle" class="d">0</text>
<text x="54.9" y="458.24" text-anchor="middle" class="l">4.2.15</text>
<rect x="39.05" y="459.44" width="31.7" height="1" fill="#2a2ad6"/>
<text x="78.3" y="458.24" class="t">Aanvullende regels tunnelveiligheid</text>
<text x="503.65" y="458.54" text-anchor="middle" class="d">-</text>
<text x="539.74" y="458.54" text-anchor="middle" class="d">-</text>
<text x="575.83" y="458.54" text-anchor="middle" class="d">-</text>
<text x="611.92" y="458.54" text-anchor="middle" class="d">-</text>
<text x="648" y="458.54" text-anchor="middle" class="d">-</text>
<text x="684.1" y="458.54" text-anchor="middle" class="d">-</text>
<text x="720.19" y="458.54" text-anchor="middle" class="d">-</text>
<text x="756.27" y="458.54" text-anchor="middle" class="d">-</text>
<text x="792.37" y="458.54" text-anchor="middle" class="d">-</text>
<text x="828.46" y="458.54" text-anchor="middle" class="d">-</text>
<text x="864.55" y="458.54" text-anchor="middle" class="d">-</text>
<text x="54.9" y="472.7" text-anchor="middle" class="l">4.2.16</text>
<rect x="39.05" y="473.9" width="31.7" height="1" fill="#2a2ad6"/>
<text x="78.3" y="472.7" class="t">Inbraakwerendheid</text>
<text x="503.65" y="473" text-anchor="middle" class="d">0</text>
<text x="539.74" y="473" text-anchor="middle" class="d">0</text>
<text x="575.83" y="473" text-anchor="middle" class="d">0</text>
<text x="611.92" y="473" text-anchor="middle" class="d">0</text>
<text x="648" y="473" text-anchor="middle" class="d">-</text>
<text x="684.1" y="473" text-anchor="middle" class="d">-</text>
<text x="720.19" y="473" text-anchor="middle" class="d">-</text>
<text x="756.27" y="473" text-anchor="middle" class="d">-</text>
<text x="792.37" y="473" text-anchor="middle" class="d">-</text>
<text x="828.46" y="473" text-anchor="middle" class="d">-</text>
<text x="864.55" y="473" text-anchor="middle" class="d">-</text>
<rect x="33.0" y="461" width="42.4" height="1.4" fill="#222"/>
<rect x="3.0" y="490.6" width="879.6" height="30.3" fill="#000"/>
<text x="35.5" y="501.6" fill="#fff" font-weight="bold" font-size="11.53">Afdeling 4.3: Technische voorschriften uit het oogpunt van gezondheid</text>
<rect x="3.0" y="492.6" width="30" height="172" fill="#000"/>
<rect x="557.18" y="520.9" width="36.09" height="14.37" fill="#ffff00"/>
<rect x="593.27" y="520.9" width="36.09" height="14.37" fill="#ffff00"/>
<rect x="665.45" y="520.9" width="36.09" height="14.37" fill="#ffff00"/>
<rect x="701.54" y="520.9" width="36.09" height="14.37" fill="#33cccc"/>
<rect x="557.18" y="535.27" width="36.09" height="14.37" fill="#ffff00"/>
<rect x="593.27" y="535.27" width="36.09" height="14.37" fill="#ffff00"/>
<rect x="629.36" y="535.27" width="36.09" height="14.37" fill="#33cccc"/>
<rect x="665.45" y="535.27" width="36.09" height="14.37" fill="#ffff00"/>
<rect x="701.54" y="535.27" width="36.09" height="14.37" fill="#33cccc"/>
<rect x="737.63" y="535.27" width="36.09" height="14.37" fill="#33cccc"/>
<rect x="773.72" y="535.27" width="36.09" height="14.37" fill="#ffff00"/>
<rect x="593.27" y="549.64" width="36.09" height="14.37" fill="#ffff00"/>
<rect x="557.18" y="564.01" width="36.09" height="14.37" fill="#ffff00"/>
<rect x="593.27" y="564.01" width="36.09" height="14.37" fill="#ffff00"/>
<rect x="629.36" y="564.01" width="36.09" height="14.37" fill="#ffff00"/>
<rect x="665.45" y="564.01" width="36.09" height="14.37" fill="#ffff00"/>
<rect x="701.54" y="564.01" width="36.09" height="14.37" fill="#33cccc"/>
<rect x="737.63" y="564.01" width="36.09" height="14.37" fill="#33cccc"/>
<rect x="773.72" y="564.01" width="36.09" height="14.37" fill="#ffff00"/>
<rect x="485" y="578.38" width="36.09" height="14.37" fill="#92d050"/>
<rect x="521.09" y="578.38" width="36.09" height="14.37" fill="#33cccc"/>
<rect x="557.18" y="578.38" width="36.09" height="14.37" fill="#ffff00"/>
<rect x="593.27" y="578.38" width="36.09" height="14.37" fill="#ffff00"/>
<rect x="629.36" y="578.38" width="36.09" height="14.37" fill="#ffff00"/>
<rect x="665.45" y="578.38" width="36.09" height="14.37" fill="#ffff00"/>
<rect x="701.54" y="578.38" width="36.09" height="14.37" fill="#33cccc"/>
<rect x="737.63" y="578.38" width="36.09" height="14.37" fill="#33cccc"/>
<rect x="773.72" y="578.38" width="36.09" height="14.37" fill="#33cccc"/>
<rect x="485" y="592.75" width="36.09" height="14.37" fill="#92d050"/>
<rect x="521.09" y="592.75" width="36.09" height="14.37" fill="#ffff00"/>
<rect x="557.18" y="592.75" width="36.09" height="14.37" fill="#ffff00"/>
<rect x="593.27" y="592.75" width="36.09" height="14.37" fill="#ffff00"/>
<rect x="629.36" y="592.75" width="36.09" height="14.37" fill="#33cccc"/>
<rect x="665.45" y="592.75" width="36.09" height="14.37" fill="#ffff00"/>
<rect x="701.54" y="592.75" width="36.09" height="14.37" fill="#33cccc"/>
<rect x="737.63" y="592.75" width="36.09" height="14.37" fill="#33cccc"/>
<rect x="773.72" y="592.75" width="36.09" height="14.37" fill="#ffff00"/>
<rect x="809.81" y="592.75" width="36.09" height="14.37" fill="#92d050"/>
<rect x="845.9" y="592.75" width="36.09" height="14.37" fill="#92d050"/>
<rect x="485" y="607.12" width="36.09" height="14.37" fill="#92d050"/>
<rect x="521.09" y="607.12" width="36.09" height="14.37" fill="#33cccc"/>
<rect x="557.18" y="607.12" width="36.09" height="14.37" fill="#33cccc"/>
<rect x="593.27" y="607.12" width="36.09" height="14.37" fill="#ffff00"/>
<rect x="665.45" y="607.12" width="36.09" height="14.37" fill="#ffff00"/>
<rect x="485" y="621.49" width="36.09" height="14.37" fill="#92d050"/>
<rect x="521.09" y="621.49" width="36.09" height="14.37" fill="#33cccc"/>
<rect x="557.18" y="621.49" width="36.09" height="14.37" fill="#33cccc"/>
<rect x="593.27" y="621.49" width="36.09" height="14.37" fill="#ffff00"/>
<rect x="629.36" y="621.49" width="36.09" height="14.37" fill="#33cccc"/>
<rect x="665.45" y="621.49" width="36.09" height="14.37" fill="#ffff00"/>
<rect x="701.54" y="621.49" width="36.09" height="14.37" fill="#33cccc"/>
<rect x="737.63" y="621.49" width="36.09" height="14.37" fill="#33cccc"/>
<rect x="773.72" y="621.49" width="36.09" height="14.37" fill="#ffff00"/>
<rect x="485" y="635.86" width="36.09" height="14.37" fill="#92d050"/>
<rect x="521.09" y="635.86" width="36.09" height="14.37" fill="#92d050"/>
<rect x="557.18" y="635.86" width="36.09" height="14.37" fill="#92d050"/>
<rect x="593.27" y="635.86" width="36.09" height="14.37" fill="#92d050"/>
<rect x="629.36" y="635.86" width="36.09" height="14.37" fill="#92d050"/>
<rect x="665.45" y="635.86" width="36.09" height="14.37" fill="#92d050"/>
<rect x="701.54" y="635.86" width="36.09" height="14.37" fill="#92d050"/>
<rect x="485" y="650.23" width="36.09" height="14.37" fill="#92d050"/>
<rect x="521.09" y="650.23" width="36.09" height="14.37" fill="#33cccc"/>
<rect x="557.18" y="650.23" width="36.09" height="14.37" fill="#ffff00"/>
<rect x="593.27" y="650.23" width="36.09" height="14.37" fill="#ffff00"/>
<rect x="665.45" y="650.23" width="36.09" height="14.37" fill="#ffff00"/>
<rect x="701.54" y="650.23" width="36.09" height="14.37" fill="#33cccc"/>
<rect x="33.0" y="534.77" width="452" height="1" fill="#c4c4c4"/>
<rect x="485" y="534.77" width="397" height="1" fill="rgba(0,0,0,0.3)"/>
<rect x="33.0" y="549.14" width="452" height="1" fill="#c4c4c4"/>
<rect x="485" y="549.14" width="397" height="1" fill="rgba(0,0,0,0.3)"/>
<rect x="33.0" y="563.51" width="452" height="1" fill="#c4c4c4"/>
<rect x="485" y="563.51" width="397" height="1" fill="rgba(0,0,0,0.3)"/>
<rect x="33.0" y="577.88" width="452" height="1" fill="#c4c4c4"/>
<rect x="485" y="577.88" width="397" height="1" fill="rgba(0,0,0,0.3)"/>
<rect x="33.0" y="592.25" width="452" height="1" fill="#c4c4c4"/>
<rect x="485" y="592.25" width="397" height="1" fill="rgba(0,0,0,0.3)"/>
<rect x="33.0" y="606.62" width="452" height="1" fill="#c4c4c4"/>
<rect x="485" y="606.62" width="397" height="1" fill="rgba(0,0,0,0.3)"/>
<rect x="33.0" y="620.99" width="452" height="1" fill="#c4c4c4"/>
<rect x="485" y="620.99" width="397" height="1" fill="rgba(0,0,0,0.3)"/>
<rect x="33.0" y="635.36" width="452" height="1" fill="#c4c4c4"/>
<rect x="485" y="635.36" width="397" height="1" fill="rgba(0,0,0,0.3)"/>
<rect x="33.0" y="649.73" width="452" height="1" fill="#c4c4c4"/>
<rect x="485" y="649.73" width="397" height="1" fill="rgba(0,0,0,0.3)"/>
<rect x="74.9" y="520.9" width="1" height="143.7" fill="#c4c4c4"/>
<rect x="33.0" y="663.8" width="849.6" height="1.6" fill="#222"/>
<text x="54.9" y="531.8" text-anchor="middle" class="l">4.3.1</text>
<rect x="42.22" y="533" width="25.36" height="1" fill="#2a2ad6"/>
<text x="78.3" y="531.8" class="t">Bescherming tegen geluid van buiten</text>
<text x="503.65" y="532.1" text-anchor="middle" class="d">-</text>
<text x="539.74" y="532.1" text-anchor="middle" class="d">-</text>
<text x="575.83" y="532.1" text-anchor="middle" class="d">2</text>
<text x="611.92" y="532.1" text-anchor="middle" class="d">2</text>
<text x="648" y="532.1" text-anchor="middle" class="d">-</text>
<text x="684.1" y="532.1" text-anchor="middle" class="d">2</text>
<text x="720.19" y="532.1" text-anchor="middle" class="d">1</text>
<text x="756.27" y="532.1" text-anchor="middle" class="d">-</text>
<text x="792.37" y="532.1" text-anchor="middle" class="d">-</text>
<text x="828.46" y="532.1" text-anchor="middle" class="d">-</text>
<text x="864.55" y="532.1" text-anchor="middle" class="d">-</text>
<text x="54.9" y="546.17" text-anchor="middle" class="l">4.3.2</text>
<rect x="42.22" y="547.37" width="25.36" height="1" fill="#2a2ad6"/>
<text x="78.3" y="546.17" class="t">Bescherming tegen geluid van bouwwerkinstallaties</text>
<text x="503.65" y="546.47" text-anchor="middle" class="d">-</text>
<text x="539.74" y="546.47" text-anchor="middle" class="d">-</text>
<text x="575.83" y="546.47" text-anchor="middle" class="d">2</text>
<text x="611.92" y="546.47" text-anchor="middle" class="d">2</text>
<text x="648" y="546.47" text-anchor="middle" class="d">1</text>
<text x="684.1" y="546.47" text-anchor="middle" class="d">2</text>
<text x="720.19" y="546.47" text-anchor="middle" class="d">1</text>
<text x="756.27" y="546.47" text-anchor="middle" class="d">1</text>
<text x="792.37" y="546.47" text-anchor="middle" class="d">2</text>
<text x="828.46" y="546.47" text-anchor="middle" class="d">-</text>
<text x="864.55" y="546.47" text-anchor="middle" class="d">-</text>
<text x="54.9" y="560.54" text-anchor="middle" class="l">4.3.3</text>
<rect x="42.22" y="561.74" width="25.36" height="1" fill="#2a2ad6"/>
<text x="78.3" y="560.54" class="t">Beperking van galm</text>
<text x="503.65" y="560.84" text-anchor="middle" class="d">-</text>
<text x="539.74" y="560.84" text-anchor="middle" class="d">-</text>
<text x="575.83" y="560.84" text-anchor="middle" class="d">-</text>
<text x="611.92" y="560.84" text-anchor="middle" class="d">2</text>
<text x="648" y="560.84" text-anchor="middle" class="d">-</text>
<text x="684.1" y="560.84" text-anchor="middle" class="d">-</text>
<text x="720.19" y="560.84" text-anchor="middle" class="d">-</text>
<text x="756.27" y="560.84" text-anchor="middle" class="d">-</text>
<text x="792.37" y="560.84" text-anchor="middle" class="d">-</text>
<text x="828.46" y="560.84" text-anchor="middle" class="d">-</text>
<text x="864.55" y="560.84" text-anchor="middle" class="d">-</text>
<text x="54.9" y="574.91" text-anchor="middle" class="l">4.3.4</text>
<rect x="42.22" y="576.11" width="25.36" height="1" fill="#2a2ad6"/>
<text x="78.3" y="574.91" class="t">Geluidwering tussen ruimten</text>
<text x="503.65" y="575.21" text-anchor="middle" class="d">-</text>
<text x="539.74" y="575.21" text-anchor="middle" class="d">-</text>
<text x="575.83" y="575.21" text-anchor="middle" class="d">2</text>
<text x="611.92" y="575.21" text-anchor="middle" class="d">2</text>
<text x="648" y="575.21" text-anchor="middle" class="d">2</text>
<text x="684.1" y="575.21" text-anchor="middle" class="d">2</text>
<text x="720.19" y="575.21" text-anchor="middle" class="d">1</text>
<text x="756.27" y="575.21" text-anchor="middle" class="d">1</text>
<text x="792.37" y="575.21" text-anchor="middle" class="d">2</text>
<text x="828.46" y="575.21" text-anchor="middle" class="d">-</text>
<text x="864.55" y="575.21" text-anchor="middle" class="d">-</text>
<text x="54.9" y="589.28" text-anchor="middle" class="l">4.3.5</text>
<rect x="42.22" y="590.48" width="25.36" height="1" fill="#2a2ad6"/>
<text x="78.3" y="589.28" class="t">Wering van vocht</text>
<text x="503.65" y="589.58" text-anchor="middle" class="d">0</text>
<text x="539.74" y="589.58" text-anchor="middle" class="d">1</text>
<text x="575.83" y="589.58" text-anchor="middle" class="d">2</text>
<text x="611.92" y="589.58" text-anchor="middle" class="d">2</text>
<text x="648" y="589.58" text-anchor="middle" class="d">2</text>
<text x="684.1" y="589.58" text-anchor="middle" class="d">2</text>
<text x="720.19" y="589.58" text-anchor="middle" class="d">1</text>
<text x="756.27" y="589.58" text-anchor="middle" class="d">1</text>
<text x="792.37" y="589.58" text-anchor="middle" class="d">1</text>
<text x="828.46" y="589.58" text-anchor="middle" class="d">-</text>
<text x="864.55" y="589.58" text-anchor="middle" class="d">-</text>
<text x="54.9" y="603.65" text-anchor="middle" class="l">4.3.6</text>
<rect x="42.22" y="604.85" width="25.36" height="1" fill="#2a2ad6"/>
<text x="78.3" y="603.65" class="t">Luchtverversing</text>
<text x="503.65" y="603.95" text-anchor="middle" class="d">0</text>
<text x="539.74" y="603.95" text-anchor="middle" class="d">2</text>
<text x="575.83" y="603.95" text-anchor="middle" class="d">2</text>
<text x="611.92" y="603.95" text-anchor="middle" class="d">2</text>
<text x="648" y="603.95" text-anchor="middle" class="d">1</text>
<text x="684.1" y="603.95" text-anchor="middle" class="d">2</text>
<text x="720.19" y="603.95" text-anchor="middle" class="d">1</text>
<text x="756.27" y="603.95" text-anchor="middle" class="d">1</text>
<text x="792.37" y="603.95" text-anchor="middle" class="d">2</text>
<text x="828.46" y="603.95" text-anchor="middle" class="d">0</text>
<text x="864.55" y="603.95" text-anchor="middle" class="d">0</text>
<text x="54.9" y="618.02" text-anchor="middle" class="l">4.3.7</text>
<rect x="42.22" y="619.22" width="25.36" height="1" fill="#2a2ad6"/>
<text x="78.3" y="618.02" class="t">Spuivoorziening</text>
<text x="503.65" y="618.32" text-anchor="middle" class="d">0</text>
<text x="539.74" y="618.32" text-anchor="middle" class="d">1</text>
<text x="575.83" y="618.32" text-anchor="middle" class="d">1</text>
<text x="611.92" y="618.32" text-anchor="middle" class="d">2</text>
<text x="648" y="618.32" text-anchor="middle" class="d">-</text>
<text x="684.1" y="618.32" text-anchor="middle" class="d">2</text>
<text x="720.19" y="618.32" text-anchor="middle" class="d">-</text>
<text x="756.27" y="618.32" text-anchor="middle" class="d">-</text>
<text x="792.37" y="618.32" text-anchor="middle" class="d">-</text>
<text x="828.46" y="618.32" text-anchor="middle" class="d">-</text>
<text x="864.55" y="618.32" text-anchor="middle" class="d">-</text>
<text x="54.9" y="632.39" text-anchor="middle" class="l">4.3.8</text>
<rect x="42.22" y="633.59" width="25.36" height="1" fill="#2a2ad6"/>
<text x="78.3" y="632.39" class="t">Afvoer van rookgas en toevoer van verbrandingslucht</text>
<text x="503.65" y="632.69" text-anchor="middle" class="d">0</text>
<text x="539.74" y="632.69" text-anchor="middle" class="d">1</text>
<text x="575.83" y="632.69" text-anchor="middle" class="d">1</text>
<text x="611.92" y="632.69" text-anchor="middle" class="d">2</text>
<text x="648" y="632.69" text-anchor="middle" class="d">1</text>
<text x="684.1" y="632.69" text-anchor="middle" class="d">2</text>
<text x="720.19" y="632.69" text-anchor="middle" class="d">1</text>
<text x="756.27" y="632.69" text-anchor="middle" class="d">1</text>
<text x="792.37" y="632.69" text-anchor="middle" class="d">2</text>
<text x="828.46" y="632.69" text-anchor="middle" class="d">-</text>
<text x="864.55" y="632.69" text-anchor="middle" class="d">-</text>
<text x="54.9" y="646.76" text-anchor="middle" class="l">4.3.9</text>
<rect x="42.22" y="647.96" width="25.36" height="1" fill="#2a2ad6"/>
<text x="78.3" y="646.76" class="t">Bescherming tegen ratten en muizen</text>
<text x="503.65" y="647.06" text-anchor="middle" class="d">0</text>
<text x="539.74" y="647.06" text-anchor="middle" class="d">0</text>
<text x="575.83" y="647.06" text-anchor="middle" class="d">0</text>
<text x="611.92" y="647.06" text-anchor="middle" class="d">0</text>
<text x="648" y="647.06" text-anchor="middle" class="d">0</text>
<text x="684.1" y="647.06" text-anchor="middle" class="d">0</text>
<text x="720.19" y="647.06" text-anchor="middle" class="d">0</text>
<text x="756.27" y="647.06" text-anchor="middle" class="d">-</text>
<text x="792.37" y="647.06" text-anchor="middle" class="d">-</text>
<text x="828.46" y="647.06" text-anchor="middle" class="d">-</text>
<text x="864.55" y="647.06" text-anchor="middle" class="d">-</text>
<text x="54.9" y="661.13" text-anchor="middle" class="l">4.3.10</text>
<rect x="39.05" y="662.33" width="31.7" height="1" fill="#2a2ad6"/>
<text x="78.3" y="661.13" class="t">Daglicht</text>
<text x="503.65" y="661.43" text-anchor="middle" class="d">0</text>
<text x="539.74" y="661.43" text-anchor="middle" class="d">1<tspan font-size="8.4" dx="0.7" dy="-3.8">¹</tspan></text>
<text x="575.83" y="661.43" text-anchor="middle" class="d">2<tspan font-size="8.4" dx="0.7" dy="-3.8">¹</tspan></text>
<text x="611.92" y="661.43" text-anchor="middle" class="d">2<tspan font-size="8.4" dx="0.7" dy="-3.8">¹</tspan></text>
<text x="648" y="661.43" text-anchor="middle" class="d">-</text>
<text x="684.1" y="661.43" text-anchor="middle" class="d">2<tspan font-size="8.4" dx="0.7" dy="-3.8">¹</tspan></text>
<text x="720.19" y="661.43" text-anchor="middle" class="d">1<tspan font-size="8.4" dx="0.7" dy="-3.8">¹</tspan></text>
<text x="756.27" y="661.43" text-anchor="middle" class="d">-</text>
<text x="792.37" y="661.43" text-anchor="middle" class="d">-</text>
<text x="828.46" y="661.43" text-anchor="middle" class="d">-</text>
<text x="864.55" y="661.43" text-anchor="middle" class="d">-</text>
<rect x="3.0" y="678.9" width="879.6" height="30.1" fill="#000"/>
<text x="35.5" y="689.9" fill="#fff" font-weight="bold" font-size="11.53">Afdeling 4.4: Tecnische voorschriften uit het oogpunt van duurzaamheid</text>
<rect x="3.0" y="680.9" width="30" height="85.3" fill="#000"/>
<rect x="557.18" y="709" width="36.09" height="14.3" fill="#ffff00"/>
<rect x="593.27" y="709" width="36.09" height="14.3" fill="#ffff00"/>
<rect x="629.36" y="709" width="36.09" height="14.3" fill="#ffff00"/>
<rect x="665.45" y="709" width="36.09" height="14.3" fill="#ffff00"/>
<rect x="701.54" y="709" width="36.09" height="14.3" fill="#33cccc"/>
<rect x="737.63" y="709" width="36.09" height="14.3" fill="#33cccc"/>
<rect x="773.72" y="709" width="36.09" height="14.3" fill="#33cccc"/>
<rect x="557.18" y="723.3" width="36.09" height="14.3" fill="#92d050"/>
<rect x="593.27" y="723.3" width="36.09" height="14.3" fill="#92d050"/>
<rect x="701.54" y="723.3" width="36.09" height="14.3" fill="#92d050"/>
<rect x="33.0" y="722.8" width="452" height="1" fill="#c4c4c4"/>
<rect x="485" y="722.8" width="397" height="1" fill="rgba(0,0,0,0.3)"/>
<rect x="33.0" y="737.1" width="452" height="1" fill="#c4c4c4"/>
<rect x="485" y="737.1" width="397" height="1" fill="rgba(0,0,0,0.3)"/>
<rect x="33.0" y="751.4" width="452" height="1" fill="#c4c4c4"/>
<rect x="485" y="751.4" width="397" height="1" fill="rgba(0,0,0,0.3)"/>
<rect x="74.9" y="709" width="1" height="57.2" fill="#c4c4c4"/>
<rect x="33.0" y="765.4" width="849.6" height="1.6" fill="#222"/>
<text x="54.9" y="719.9" text-anchor="middle" class="l">4.4.1</text>
<rect x="42.22" y="721.1" width="25.36" height="1" fill="#2a2ad6"/>
<text x="78.3" y="719.9" class="t">Energiezuinigheid</text>
<text x="503.65" y="720.2" text-anchor="middle" class="d">-</text>
<text x="539.74" y="720.2" text-anchor="middle" class="d">-</text>
<text x="575.83" y="720.2" text-anchor="middle" class="d">2</text>
<text x="611.92" y="720.2" text-anchor="middle" class="d">2</text>
<text x="648" y="720.2" text-anchor="middle" class="d">2</text>
<text x="684.1" y="720.2" text-anchor="middle" class="d">2</text>
<text x="720.19" y="720.2" text-anchor="middle" class="d">1</text>
<text x="756.27" y="720.2" text-anchor="middle" class="d">1</text>
<text x="792.37" y="720.2" text-anchor="middle" class="d">1</text>
<text x="828.46" y="720.2" text-anchor="middle" class="d">-</text>
<text x="864.55" y="720.2" text-anchor="middle" class="d">-</text>
<text x="54.9" y="734.2" text-anchor="middle" class="l">4.4.2</text>
<rect x="42.22" y="735.4" width="25.36" height="1" fill="#2a2ad6"/>
<text x="78.3" y="734.2" class="t">Milieuprestatie</text>
<text x="503.65" y="734.5" text-anchor="middle" class="d">-</text>
<text x="539.74" y="734.5" text-anchor="middle" class="d">-</text>
<text x="575.83" y="734.5" text-anchor="middle" class="d">0</text>
<text x="611.92" y="734.5" text-anchor="middle" class="d">0</text>
<text x="648" y="734.5" text-anchor="middle" class="d">-</text>
<text x="684.1" y="734.5" text-anchor="middle" class="d">-</text>
<text x="720.19" y="734.5" text-anchor="middle" class="d">0</text>
<text x="756.27" y="734.5" text-anchor="middle" class="d">-</text>
<text x="792.37" y="734.5" text-anchor="middle" class="d">-</text>
<text x="828.46" y="734.5" text-anchor="middle" class="d">-</text>
<text x="864.55" y="734.5" text-anchor="middle" class="d">-</text>
<text x="54.9" y="748.5" text-anchor="middle" class="l">4.4.3</text>
<rect x="42.22" y="749.7" width="25.36" height="1" fill="#2a2ad6"/>
<text x="78.3" y="748.5" class="t">Laadinfrastructuur voor elektrische voertuigen</text>
<text x="503.65" y="748.8" text-anchor="middle" class="d">-</text>
<text x="539.74" y="748.8" text-anchor="middle" class="d">-</text>
<text x="575.83" y="748.8" text-anchor="middle" class="d">-</text>
<text x="611.92" y="748.8" text-anchor="middle" class="d">-</text>
<text x="648" y="748.8" text-anchor="middle" class="d">-</text>
<text x="684.1" y="748.8" text-anchor="middle" class="d">-</text>
<text x="720.19" y="748.8" text-anchor="middle" class="d">-</text>
<text x="756.27" y="748.8" text-anchor="middle" class="d">-</text>
<text x="792.37" y="748.8" text-anchor="middle" class="d">-</text>
<text x="828.46" y="748.8" text-anchor="middle" class="d">-</text>
<text x="864.55" y="748.8" text-anchor="middle" class="d">-</text>
<text x="54.9" y="762.8" text-anchor="middle" class="l">4.4.4</text>
<rect x="42.22" y="764" width="25.36" height="1" fill="#2a2ad6"/>
<text x="78.3" y="762.8" class="t">Systeem voor gebouwautomatisering en -controle</text>
<text x="503.65" y="763.1" text-anchor="middle" class="d">-</text>
<text x="539.74" y="763.1" text-anchor="middle" class="d">-</text>
<text x="575.83" y="763.1" text-anchor="middle" class="d">-</text>
<text x="611.92" y="763.1" text-anchor="middle" class="d">-</text>
<text x="648" y="763.1" text-anchor="middle" class="d">-</text>
<text x="684.1" y="763.1" text-anchor="middle" class="d">-</text>
<text x="720.19" y="763.1" text-anchor="middle" class="d">-</text>
<text x="756.27" y="763.1" text-anchor="middle" class="d">-</text>
<text x="792.37" y="763.1" text-anchor="middle" class="d">-</text>
<text x="828.46" y="763.1" text-anchor="middle" class="d">-</text>
<text x="864.55" y="763.1" text-anchor="middle" class="d">-</text>
<rect x="484.2" y="244.9" width="1.6" height="231.36" fill="#222"/>
<rect x="520.29" y="244.9" width="1.6" height="231.36" fill="#222"/>
<rect x="556.38" y="244.9" width="1.6" height="231.36" fill="#222"/>
<rect x="592.47" y="244.9" width="1.6" height="231.36" fill="#222"/>
<rect x="628.56" y="244.9" width="1.6" height="231.36" fill="#222"/>
<rect x="664.65" y="244.9" width="1.6" height="231.36" fill="#222"/>
<rect x="700.74" y="244.9" width="1.6" height="231.36" fill="#222"/>
<rect x="736.83" y="244.9" width="1.6" height="231.36" fill="#222"/>
<rect x="772.92" y="244.9" width="1.6" height="231.36" fill="#222"/>
<rect x="809.01" y="244.9" width="1.6" height="231.36" fill="#222"/>
<rect x="845.1" y="244.9" width="1.6" height="231.36" fill="#222"/>
<rect x="881.19" y="244.9" width="1.6" height="231.36" fill="#222"/>
<rect x="484.2" y="520.9" width="1.6" height="143.7" fill="#222"/>
<rect x="520.29" y="520.9" width="1.6" height="143.7" fill="#222"/>
<rect x="556.38" y="520.9" width="1.6" height="143.7" fill="#222"/>
<rect x="592.47" y="520.9" width="1.6" height="143.7" fill="#222"/>
<rect x="628.56" y="520.9" width="1.6" height="143.7" fill="#222"/>
<rect x="664.65" y="520.9" width="1.6" height="143.7" fill="#222"/>
<rect x="700.74" y="520.9" width="1.6" height="143.7" fill="#222"/>
<rect x="736.83" y="520.9" width="1.6" height="143.7" fill="#222"/>
<rect x="772.92" y="520.9" width="1.6" height="143.7" fill="#222"/>
<rect x="809.01" y="520.9" width="1.6" height="143.7" fill="#222"/>
<rect x="845.1" y="520.9" width="1.6" height="143.7" fill="#222"/>
<rect x="881.19" y="520.9" width="1.6" height="143.7" fill="#222"/>
<rect x="484.2" y="709" width="1.6" height="57.2" fill="#222"/>
<rect x="520.29" y="709" width="1.6" height="57.2" fill="#222"/>
<rect x="556.38" y="709" width="1.6" height="57.2" fill="#222"/>
<rect x="592.47" y="709" width="1.6" height="57.2" fill="#222"/>
<rect x="628.56" y="709" width="1.6" height="57.2" fill="#222"/>
<rect x="664.65" y="709" width="1.6" height="57.2" fill="#222"/>
<rect x="700.74" y="709" width="1.6" height="57.2" fill="#222"/>
<rect x="736.83" y="709" width="1.6" height="57.2" fill="#222"/>
<rect x="772.92" y="709" width="1.6" height="57.2" fill="#222"/>
<rect x="809.01" y="709" width="1.6" height="57.2" fill="#222"/>
<rect x="845.1" y="709" width="1.6" height="57.2" fill="#222"/>
<rect x="881.19" y="709" width="1.6" height="57.2" fill="#222"/>
<text x="29.4" y="68.6" font-weight="bold" font-size="16.4" fill="#000">Toetsmatrix Besluit bouwwerken leefomgeving (Bbl)</text>

<g id="logo">
  <defs>
   <radialGradient id="gl" cx="0.38" cy="0.35" r="0.75"><stop offset="0" stop-color="#ffffff"/><stop offset="0.45" stop-color="#d4d4ea"/><stop offset="1" stop-color="#8c90c0"/></radialGradient>
   <linearGradient id="dm" x1="0" y1="0" x2="0" y2="1"><stop offset="0" stop-color="#f6f8dc"/><stop offset="0.5" stop-color="#eef2a8"/><stop offset="0.7" stop-color="#e0ec70"/><stop offset="0.74" stop-color="#bfe040"/><stop offset="1" stop-color="#a8d428"/></linearGradient>
   <linearGradient id="uf" x1="0" y1="0" x2="1" y2="1"><stop offset="0" stop-color="#d4d4e8"/><stop offset="0.5" stop-color="#c4c6de"/><stop offset="1" stop-color="#d8d8ea"/></linearGradient>
  </defs>
  <!-- upper field -->
  <rect x="118.2" y="107" width="22.1" height="22.5" fill="#eceeb6"/>
  <rect x="140.3" y="107" width="22.5" height="22.5" fill="url(#uf)"/>
  <!-- navy block bottom-right -->
  <rect x="140.3" y="130" width="23.6" height="36.6" fill="#0f3a9c" stroke="#10286e" stroke-width="0.8"/>
  <!-- lower shield halves -->
  <path d="M118.2,130.5 L118.2,140 C118.5,152 126,160.5 140.3,165.2 L140.3,130.5 Z" fill="#dde45c"/>
  <path d="M161,130.5 L161,135 C160.6,147 153,158.5 140.3,164.6 L140.3,130.5 Z" fill="#d6d7ec" stroke="#14286a" stroke-width="0.7"/>
  <path d="M118.2,130 L118.2,140 C118.5,152 126,160.5 140.3,165.2" fill="none" stroke="#1c3484" stroke-width="2"/>
  
  <rect x="139.3" y="130" width="2" height="36" fill="#1c3484"/>
  <rect x="117.2" y="129" width="46.7" height="1.8" fill="#1c3484"/>
  <!-- top brackets -->
  <path d="M118.2,117.7 L118.2,106.9 L129,106.9 M151.2,106.9 L162.8,106.9 L162.8,117.7" fill="none" stroke="#1c3484" stroke-width="2"/>
  <!-- globe -->
  <circle cx="140.3" cy="129.6" r="8.2" fill="url(#gl)" stroke="#2a3680" stroke-width="1.1"/>
  <!-- dome -->
  <path d="M140.4,82.8 L140.4,92" stroke="#2c3644" stroke-width="1.1"/>
  <ellipse cx="140.4" cy="89.4" rx="1.4" ry="1.2" fill="#2c3644"/>
  <path d="M140.4,91.4 C139,94 133.2,97 132.5,103.5 C132.1,108.4 136,111.7 140.4,111.7 C144.8,111.7 148.7,108.4 148.3,103.5 C147.6,97 141.8,94 140.4,91.4 Z" fill="url(#dm)" stroke="#303a30" stroke-width="1.1"/>
  <path d="M140.4,92 C136.4,97.5 135.4,105 137.2,111.3 M140.4,92 C144.4,97.5 145.4,105 143.6,111.3" fill="none" stroke="#3a4438" stroke-width="0.8"/>
  <path d="M132.9,106.4 C136,107.6 144.8,107.6 147.9,106.4" fill="none" stroke="#4a5a30" stroke-width="0.8"/>
  <text x="172.4" y="135.4" fill="#4a5a84" stroke="#4a5a84" stroke-width="0.4" font-family="'DejaVu Sans', sans-serif" font-size="11.1" letter-spacing="0.95">gemeente</text>
  <text x="172.6" y="157" fill="#1f3380" stroke="#1f3380" stroke-width="0.35" font-family="'DejaVu Sans Condensed', 'DejaVu Sans', sans-serif" font-stretch="condensed" font-size="17.6" letter-spacing="0.62">HEEZE-LEENDE</text>
  <rect x="172.6" y="173.2" width="2.6" height="1.2" fill="#d4d4d4"/>
  <rect x="185" y="173.2" width="1" height="1.2" fill="#dcdcdc"/><rect x="187.2" y="173.2" width="2.6" height="1.2" fill="#d4d4d4"/>
</g>
</svg>
</body></html>
